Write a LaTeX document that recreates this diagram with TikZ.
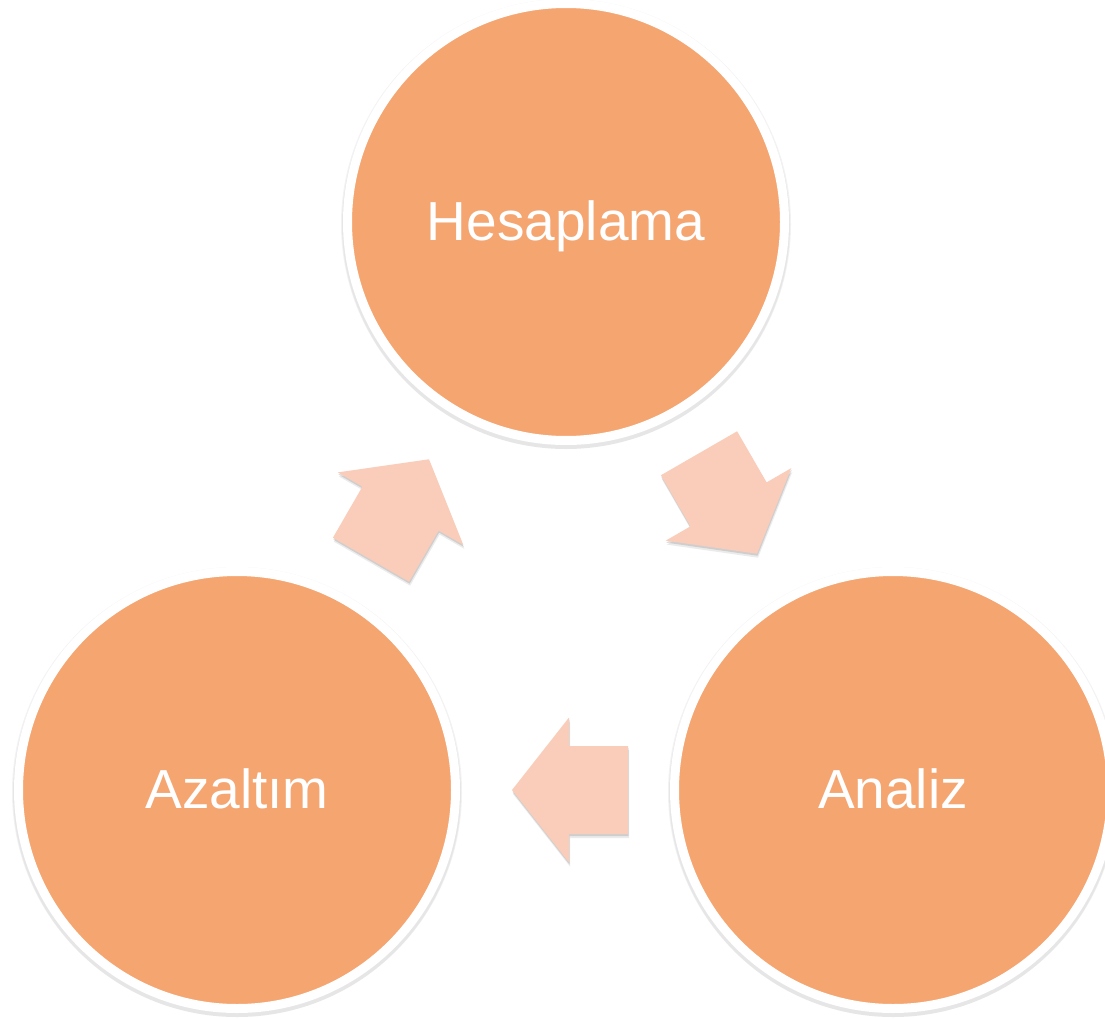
\documentclass[tikz,border=0pt]{standalone}
\usepackage{fontspec}
\setmainfont{Liberation Sans}
\definecolor{circfill}{HTML}{F5A570}
\definecolor{arrfill}{HTML}{F9CDB9}
\newcommand\blockarrowpath{(-58,-44) -- (1,-44) -- (1,-72.5) -- (58,0) -- (1,72.5) -- (1,44) -- (-58,44) -- cycle}
\newcommand\blockarrowat[4]{%
  \fill[black, opacity=.08, shift={(#1+1,#2+4)}, rotate=#3] \blockarrowpath;
  \fill[black, opacity=.12, shift={(#1+0.5,#2+2)}, rotate=#3] \blockarrowpath;
  \fill[arrfill, shift={(#1,#2)}, rotate=#3] \blockarrowpath;
  \coordinate (#4) at (#1,#2);
}
\begin{document}
\begin{tikzpicture}[x=1pt,y=-1pt,
  stage/.style={circle, fill=circfill, draw=white, line width=9pt,
    minimum size=437pt, inner sep=0pt, text=white,
    text height=36pt, text depth=0pt,
    font=\fontsize{55}{66}\selectfont},
  stageshadow/.style={fill=black, opacity=.05}]
\useasboundingbox (0,0) rectangle (1105,1019);
\clip (0,0) rectangle (1105,1019);
% soft shadows of circles
\fill[stageshadow] (566,224) circle[radius=225];
\fill[stageshadow] (566,225) circle[radius=224];
\fill[stageshadow] (237,792) circle[radius=225];
\fill[stageshadow] (237,793) circle[radius=224];
\fill[stageshadow] (893,792) circle[radius=225];
\fill[stageshadow] (893,793) circle[radius=224];
% circles
\node[stage] (hes) at (566,222) {Hesaplama};
\node[stage] (aza) at (237,790) {Azaltım};
\node[stage] (ana) at (893,790) {Analiz};
% block arrows
\blockarrowat{400}{509.5}{60}{a1}
\blockarrowat{728}{503.5}{-60}{a2}
\blockarrowat{570}{790}{180}{a3}
\end{tikzpicture}
\end{document}
